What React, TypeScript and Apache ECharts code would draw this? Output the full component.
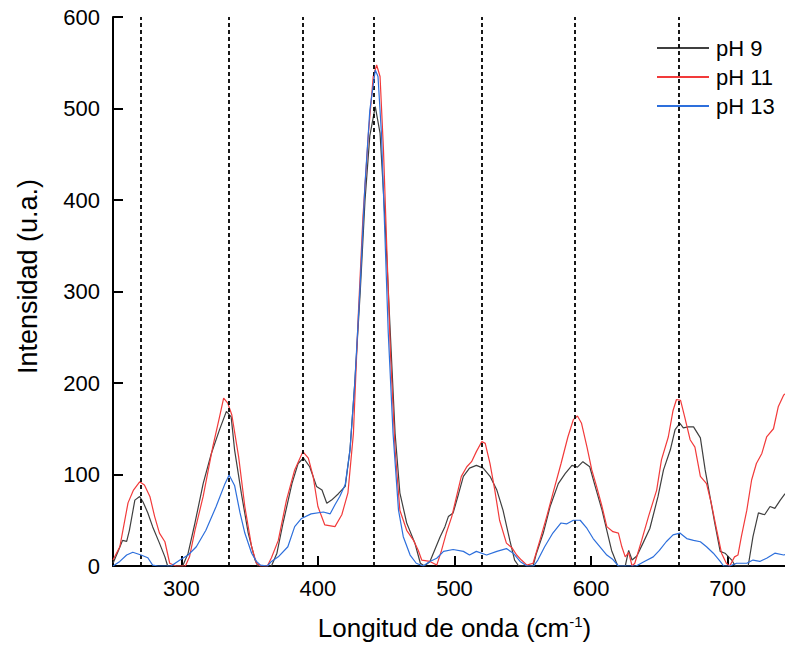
import React, { useEffect, useRef } from "react";
import * as echarts from "echarts";

// Wavenumber (cm-1) and intensity samples
const ph9X = [250, 254, 257, 260, 262, 266, 269.5, 272, 275.5, 279, 284, 288, 290, 301, 305, 310, 316, 322, 328, 333, 336.5, 339, 344, 349, 354, 356, 366, 370, 374.5, 381, 385.5, 389.5, 394, 399, 403, 406.5, 410, 415, 420, 423.5, 427, 431, 434.5, 438, 442, 445.5, 449, 453, 456.5, 460, 465, 471, 475, 478, 482, 485.5, 489.5, 493, 495.5, 499, 503, 506.5, 511, 516, 521, 526, 531, 535.5, 540.5, 544, 547, 557.5, 560, 565, 570, 576, 581, 586, 590, 594, 599, 603, 608, 611.5, 615, 619.5, 625, 627.5, 630, 633.5, 638, 643, 649, 653, 658, 661.5, 665, 667.5, 671, 675, 680, 683.5, 687, 690.5, 694.5, 698, 703, 705.5, 715, 718.5, 722.5, 727, 731, 734.5, 738.5, 742];
const ph9Y = [3, 17, 28, 27, 39, 72, 76, 70, 58, 43, 25, 10, 0, 0, 14, 47, 90, 123, 149, 169, 163, 127, 79, 36, 6.5, 0, 0, 14, 47, 90, 112, 118, 108.5, 87, 83, 68.5, 72, 79, 87, 127, 200, 300, 400, 470, 502, 473, 382, 255, 145, 80, 47, 25, 3, 0, 5, 17.5, 32, 43, 54, 58, 79, 98, 107, 110, 107, 98, 83, 61, 28, 6.5, 0, 0, 14, 36, 65, 90, 101, 110, 108, 114, 108.5, 87, 61, 39, 17, 0, 0, 17, 6.5, 11, 25, 41, 76, 105, 127, 149, 156, 151, 152, 152, 140, 105, 76, 47, 16, 14, 6.5, 0, 0, 32, 58, 56, 65, 63, 72, 79];

const ph11X = [250, 255, 261, 265, 269.5, 273, 277, 280.5, 284, 288, 291.5, 296, 303, 306, 310, 316, 323, 328, 331, 334, 337, 342, 346.5, 351.5, 355, 358, 363, 366, 371, 377, 383, 389, 393, 396.5, 400, 405, 412.5, 417.5, 422, 426, 429.5, 433, 437, 440.5, 443, 445.5, 448, 450.5, 453, 456.5, 460, 465, 470, 473.5, 476, 482, 487, 490.5, 494, 498, 501.5, 505, 509, 512.5, 516, 520, 522.5, 526, 529.5, 533, 538, 542, 545.5, 549, 553, 557.5, 562.5, 567.5, 572, 578, 583, 587, 590, 593, 597, 600.5, 604, 608, 611.5, 616, 620, 622.5, 625, 627.5, 630, 632, 637, 642, 648, 651.5, 656.5, 660, 662.5, 665.5, 668.5, 672.5, 676, 680, 684.5, 688, 692, 695.5, 699, 701.5, 705, 707.5, 710, 714, 717.5, 721, 725, 728.5, 733.5, 737, 741, 744];
const ph11Y = [6.5, 21, 69, 83, 92, 88.5, 76, 54, 36, 26.5, 3, 0, 0, 10, 39, 76, 130, 163, 183.5, 178, 165, 119, 65, 21, 3, 0, 0, 9, 28, 72, 105, 125, 118, 98, 65, 45, 43, 56, 80, 145, 272, 382, 473, 535, 547.5, 535, 455, 345, 236, 127, 61, 39, 28, 17, 6.5, 5, 1, 17, 36, 54, 76, 98, 108.5, 114, 125, 136, 134, 112, 83, 50, 25, 20, 12, 6.5, 1, 3, 28, 54, 79, 112, 141, 160, 164, 156, 130, 105, 87, 65, 43, 37.5, 36, 21, 10, 15, 0, 3, 28, 54, 83, 116, 141, 170, 182, 181, 163, 138, 130, 98, 90, 68.5, 39, 14, 3, 0, 10, 12, 32, 61, 94, 112, 123, 141, 150, 174, 187, 190];

const ph13X = [250, 255, 260, 264.5, 270.5, 275.5, 279, 283, 292.5, 299, 305, 311, 318, 325.5, 332, 335, 339, 343, 346.5, 351.5, 355, 358, 363, 366, 371, 378, 383, 388, 395, 404, 409, 412.5, 416, 420, 423.5, 427, 431, 434.5, 438, 442, 444, 446.5, 449, 451.5, 455, 459, 462.5, 467.5, 472, 477, 482, 487, 492, 499, 506.5, 511, 516, 523.5, 531, 538, 543, 548, 553, 558, 561, 566, 572, 578, 582, 587, 592, 597, 601.5, 606.5, 611.5, 616, 620, 633, 639, 645.5, 650, 655, 660, 665, 670, 675, 680, 684.5, 689.5, 694.5, 697, 701.5, 706.5, 714, 718.5, 723.5, 728.5, 734.5, 741, 744];
const ph13Y = [0, 5, 12, 15, 12, 9, 1, 0, 0, 6.5, 12, 21, 39, 65, 90, 99.5, 88, 58, 36, 14, 5, 1, 0, 5, 10, 21, 43, 52, 57, 59, 57, 67, 76, 89, 127, 200, 309, 418, 498, 542, 535, 473, 364, 255, 145, 61, 32, 12, 3, 0, 5, 8.5, 16, 18, 16, 12, 16, 12, 16, 19, 14, 5, 0, 0, 6.5, 21, 36, 47, 46, 50, 50, 41, 30, 21, 12, 7, 0, 0, 5, 10, 17, 26.5, 34, 36, 30, 28, 26.5, 21, 14, 5, 0, 0, 3, 3, 6.5, 5, 8.5, 14, 12, 13];

const bandPositions = [270, 335, 389, 441, 520, 588, 664];
const seriesNames = ["pH 9", "pH 11", "pH 13"];
const seriesColors = ["#3f3f3f", "#f23a3a", "#2d6fdc"];
const xRange = [250, 750];
const yTicks = [0, 600, 100];

const zip = (xs: number[], ys: number[]) => xs.map((x, i) => [x, ys[i]]);

export default function App() {
  const ref = useRef<HTMLDivElement>(null);
  useEffect(() => {
    if (!ref.current) return;
    const chart = echarts.init(ref.current, null, { renderer: "svg" });
    const font = "'Liberation Sans', Arial, sans-serif";
    const datasets = [zip(ph9X, ph9Y), zip(ph11X, ph11Y), zip(ph13X, ph13Y)];
    chart.setOption({
      animation: false,
      backgroundColor: "#ffffff",
      textStyle: { fontFamily: font },
      grid: { left: 113, right: 0, top: 17, bottom: 82 },
      legend: {
        orient: "vertical",
        left: 657,
        top: 37,
        padding: 0,
        itemWidth: 52,
        itemHeight: 2,
        itemGap: 7,
        icon: "rect",
        data: seriesNames,
        textStyle: { fontSize: 22, color: "#000", fontFamily: font, padding: [0, 0, 0, 2] },
      },
      xAxis: {
        type: "value",
        min: xRange[0],
        max: xRange[1],
        splitNumber: 5,
        name: "Longitud de onda (cm{sup|-1})",
        nameLocation: "middle",
        nameGap: 48,
        nameTextStyle: {
          fontSize: 26,
          color: "#000",
          fontFamily: font,
          rich: { sup: { fontSize: 15, verticalAlign: "top", padding: [0, 0, 12, 0], color: "#000", fontFamily: font } },
        },
        axisLine: { lineStyle: { color: "#000", width: 2 } },
        axisTick: { inside: true, length: 10, lineStyle: { color: "#000", width: 2 } },
        axisLabel: {
          fontSize: 22,
          color: "#000",
          margin: 11,
          fontFamily: font,
          showMinLabel: false,
          showMaxLabel: false,
          formatter: (v: number) => (v % 100 === 0 ? String(v) : ""),
        },
        splitLine: { show: false },
      },
      yAxis: {
        type: "value",
        min: yTicks[0],
        max: yTicks[1],
        interval: yTicks[2],
        name: "Intensidad (u.a.)",
        nameLocation: "middle",
        nameGap: 72,
        nameTextStyle: { fontSize: 27, color: "#000", fontFamily: font, padding: [0, 0, 0, 30] },
        axisLine: { show: true, lineStyle: { color: "#000", width: 2 } },
        axisTick: { show: true, inside: true, length: 10, lineStyle: { color: "#000", width: 2 } },
        axisLabel: { fontSize: 22, color: "#000", margin: 13, fontFamily: font },
        splitLine: { show: false },
      },
      series: seriesNames.map((name, i) => ({
        name,
        type: "line",
        data: datasets[i],
        showSymbol: false,
        symbol: "none",
        color: seriesColors[i],
        lineStyle: { color: seriesColors[i], width: 1.2 },
        z: 3 + i,
        markLine:
          i === 0
            ? {
                silent: true,
                symbol: ["none", "none"],
                label: { show: false },
                lineStyle: { color: "#000", type: [4, 3], width: 1.8 },
                data: bandPositions.map((b) => ({ xAxis: b })),
              }
            : undefined,
      })),
    });
    return () => chart.dispose();
  }, []);
  return (
    <div style={{ position: "absolute", left: 0, top: 0, width: 785, height: 648, overflow: "hidden" }}>
      <div ref={ref} style={{ width: 796, height: 648 }} />
    </div>
  );
}
